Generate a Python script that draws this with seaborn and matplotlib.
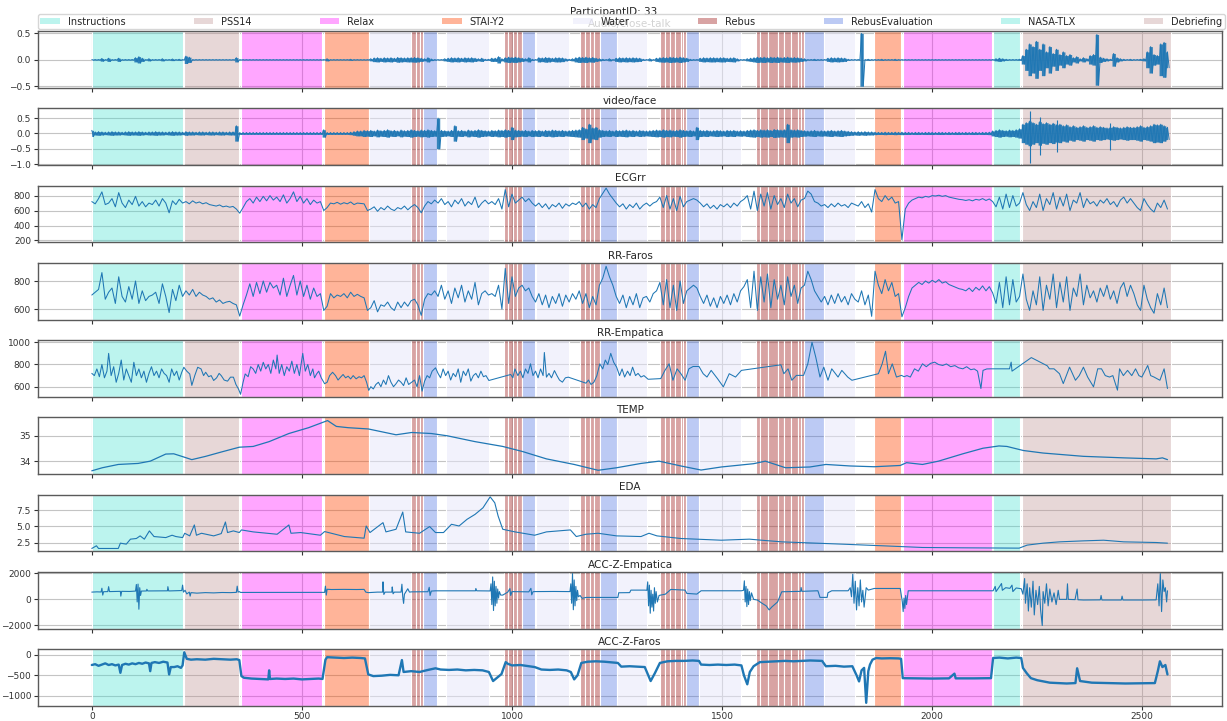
import numpy as np
import matplotlib
matplotlib.use("Agg")
import matplotlib.pyplot as plt
from matplotlib.colors import to_rgba
from matplotlib.patches import Patch
import seaborn as sns

# ---------------------------------------------------------------- protocol
event_names = (["Instructions", "PSS14", "Relax", "STAI-Y2", "Water"]
               + ["Rebus"] * 3 + ["RebusEvaluation", "Water"]
               + ["Rebus"] * 4 + ["RebusEvaluation", "Water"]
               + ["Rebus"] * 4 + ["RebusEvaluation", "Water"]
               + ["Rebus"] * 6 + ["RebusEvaluation", "Water"]
               + ["Rebus"] * 8 + ["RebusEvaluation", "Water"]
               + ["STAI-Y2", "Relax", "NASA-TLX", "Debriefing"])
event_start = [0, 219, 354, 552, 659,
               760, 771, 780, 788, 842,
               981, 991, 1003, 1012, 1023, 1056,
               1162, 1174, 1186, 1195, 1209, 1249,
               1352, 1364, 1376, 1388, 1402, 1407, 1415, 1445,
               1580, 1590, 1610, 1632, 1647, 1665, 1680, 1689, 1694, 1742,
               1862, 1930, 2145, 2213]
event_end = [216, 351, 549, 659, 759,
             771, 780, 788, 821, 946,
             991, 1003, 1012, 1023, 1054, 1136,
             1174, 1186, 1195, 1209, 1249, 1321,
             1364, 1376, 1388, 1402, 1407, 1415, 1445, 1546,
             1590, 1610, 1632, 1647, 1665, 1680, 1689, 1694, 1742, 1816,
             1927, 2142, 2210, 2569]

legend_order = ["Instructions", "PSS14", "Relax", "STAI-Y2", "Water", "Rebus",
                "RebusEvaluation", "NASA-TLX", "Debriefing"]
event_colors = {
    "Instructions": ("turquoise", 0.35),
    "PSS14": ("rosybrown", 0.35),
    "Relax": ("magenta", 0.35),
    "STAI-Y2": ("orangered", 0.40),
    "Water": ("lavender", 0.50),
    "Rebus": ("brown", 0.43),
    "RebusEvaluation": ("royalblue", 0.35),
    "NASA-TLX": ("turquoise", 0.35),
    "Debriefing": ("rosybrown", 0.35),
}

panel_titles = ["Audio/close-talk", "video/face", "ECGrr", "RR-Faros", "RR-Empatica",
                "TEMP", "EDA", "ACC-Z-Empatica", "ACC-Z-Faros"]

# ---------------------------------------------------------------- signals
sample_step = 8  # seconds between samples of the regularly sampled series

audio_amp = [
    0.005, 0.005, 0.005, 0.025, 0.005, 0.03, 0.005, 0.005, 0.03, 0.005,
    0.005, 0.005, 0.005, 0.04, 0.06, 0.03, 0.005, 0.02, 0.005, 0.005,
    0.005, 0.02, 0.005, 0.005, 0.015, 0.005, 0.01, 0.004, 0.07, 0.05,
    0.005, 0.004, 0.004, 0.004, 0.004, 0.004, 0.004, 0.004, 0.004, 0.004,
    0.004, 0.004, 0.004, 0.04, 0.004, 0.004, 0.004, 0.004, 0.004, 0.004,
    0.004, 0.004, 0.004, 0.004, 0.004, 0.004, 0.004, 0.004, 0.004, 0.004,
    0.004, 0.004, 0.004, 0.004, 0.004, 0.004, 0.004, 0.004, 0.004, 0.004,
    0.02, 0.004, 0.004, 0.004, 0.004, 0.004, 0.004, 0.01, 0.004, 0.004,
    0.004, 0.004, 0.004, 0.02, 0.035, 0.04, 0.03, 0.04, 0.035, 0.04,
    0.03, 0.045, 0.04, 0.035, 0.04, 0.04, 0.045, 0.04, 0.03, 0.02,
    0.04, 0.015, 0.005, 0.004, 0.004, 0.02, 0.03, 0.04, 0.035, 0.04,
    0.03, 0.04, 0.035, 0.04, 0.03, 0.02, 0.03, 0.01, 0.01, 0.03,
    0.03, 0.06, 0.02, 0.04, 0.05, 0.045, 0.05, 0.04, 0.03, 0.02,
    0.04, 0.01, 0.005, 0.04, 0.035, 0.045, 0.04, 0.03, 0.04, 0.04,
    0.035, 0.02, 0.01, 0.02, 0.04, 0.05, 0.045, 0.05, 0.04, 0.045,
    0.03, 0.02, 0.01, 0.005, 0.02, 0.005, 0.03, 0.04, 0.035, 0.04,
    0.035, 0.04, 0.035, 0.03, 0.01, 0.005, 0.02, 0.005, 0.03, 0.04,
    0.045, 0.04, 0.05, 0.045, 0.04, 0.05, 0.04, 0.03, 0.01, 0.005,
    0.005, 0.03, 0.04, 0.035, 0.04, 0.04, 0.035, 0.04, 0.04, 0.03,
    0.035, 0.04, 0.02, 0.005, 0.005, 0.02, 0.03, 0.04, 0.05, 0.045,
    0.05, 0.04, 0.05, 0.045, 0.05, 0.04, 0.045, 0.05, 0.04, 0.045,
    0.04, 0.03, 0.02, 0.005, 0.005, 0.01, 0.005, 0.005, 0.005, 0.03,
    0.04, 0.035, 0.04, 0.035, 0.03, 0.01, 0.005, 0.005, 0.005, 0.5,
    0.005, 0.01, 0.005, 0.005, 0.005, 0.01, 0.005, 0.005, 0.005, 0.01,
    0.005, 0.004, 0.004, 0.004, 0.004, 0.004, 0.004, 0.004, 0.004, 0.004,
    0.004, 0.004, 0.004, 0.004, 0.004, 0.004, 0.004, 0.004, 0.004, 0.004,
    0.004, 0.004, 0.004, 0.004, 0.004, 0.004, 0.004, 0.004, 0.005, 0.02,
    0.03, 0.02, 0.01, 0.005, 0.005, 0.005, 0.01, 0.08, 0.2, 0.3,
    0.25, 0.35, 0.2, 0.3, 0.15, 0.25, 0.12, 0.2, 0.1, 0.15,
    0.08, 0.1, 0.04, 0.06, 0.02, 0.04, 0.02, 0.08, 0.1, 0.48,
    0.05, 0.03, 0.02, 0.01, 0.12, 0.04, 0.02, 0.01, 0.005, 0.01,
    0.005, 0.005, 0.01, 0.02, 0.15, 0.25, 0.1, 0.08, 0.3, 0.33,
    0.15,
]

video_amp = [
    0.1, 0.05, 0.06, 0.05, 0.04, 0.05, 0.06, 0.05, 0.05, 0.04,
    0.05, 0.06, 0.05, 0.05, 0.06, 0.05, 0.04, 0.05, 0.05, 0.06,
    0.05, 0.05, 0.04, 0.05, 0.06, 0.05, 0.05, 0.04, 0.06, 0.05,
    0.05, 0.04, 0.05, 0.05, 0.04, 0.05, 0.05, 0.04, 0.05, 0.05,
    0.04, 0.05, 0.05, 0.25, 0.03, 0.03, 0.03, 0.03, 0.03, 0.03,
    0.03, 0.03, 0.03, 0.03, 0.03, 0.03, 0.03, 0.03, 0.03, 0.03,
    0.03, 0.03, 0.03, 0.03, 0.03, 0.03, 0.03, 0.03, 0.03, 0.12,
    0.03, 0.03, 0.03, 0.03, 0.03, 0.03, 0.03, 0.04, 0.06, 0.08,
    0.08, 0.1, 0.09, 0.1, 0.08, 0.11, 0.09, 0.1, 0.12, 0.09,
    0.1, 0.08, 0.11, 0.09, 0.1, 0.12, 0.1, 0.09, 0.11, 0.1,
    0.12, 0.1, 0.09, 0.5, 0.1, 0.09, 0.08, 0.1, 0.25, 0.09,
    0.1, 0.08, 0.11, 0.09, 0.1, 0.12, 0.1, 0.09, 0.08, 0.1,
    0.09, 0.11, 0.1, 0.12, 0.1, 0.2, 0.11, 0.1, 0.09, 0.1,
    0.08, 0.1, 0.09, 0.1, 0.08, 0.1, 0.09, 0.11, 0.1, 0.09,
    0.1, 0.08, 0.09, 0.1, 0.11, 0.12, 0.2, 0.15, 0.3, 0.18,
    0.2, 0.12, 0.1, 0.09, 0.1, 0.08, 0.1, 0.09, 0.1, 0.11,
    0.09, 0.1, 0.08, 0.1, 0.09, 0.08, 0.09, 0.1, 0.11, 0.1,
    0.12, 0.1, 0.11, 0.09, 0.1, 0.12, 0.1, 0.09, 0.1, 0.08,
    0.2, 0.1, 0.09, 0.1, 0.08, 0.09, 0.1, 0.09, 0.08, 0.1,
    0.09, 0.1, 0.08, 0.09, 0.08, 0.1, 0.11, 0.12, 0.1, 0.12,
    0.11, 0.12, 0.1, 0.13, 0.12, 0.11, 0.12, 0.3, 0.12, 0.11,
    0.12, 0.1, 0.09, 0.08, 0.09, 0.1, 0.08, 0.09, 0.08, 0.09,
    0.1, 0.08, 0.09, 0.1, 0.08, 0.07, 0.06, 0.05, 0.06, 0.05,
    0.06, 0.05, 0.05, 0.04, 0.035, 0.035, 0.04, 0.035, 0.035, 0.04,
    0.035, 0.04, 0.035, 0.035, 0.03, 0.035, 0.035, 0.03, 0.035, 0.035,
    0.035, 0.03, 0.035, 0.035, 0.03, 0.035, 0.03, 0.035, 0.035, 0.03,
    0.035, 0.03, 0.035, 0.035, 0.03, 0.035, 0.035, 0.04, 0.08, 0.1,
    0.12, 0.1, 0.09, 0.11, 0.1, 0.12, 0.15, 0.3, 0.35, 0.4,
    0.35, 0.3, 0.38, 0.32, 0.35, 0.3, 0.33, 0.28, 0.3, 0.25,
    0.28, 0.22, 0.25, 0.2, 0.22, 0.25, 0.2, 0.22, 0.25, 0.2,
    0.22, 0.2, 0.18, 0.2, 0.22, 0.2, 0.18, 0.2, 0.22, 0.2,
    0.2, 0.22, 0.25, 0.2, 0.22, 0.25, 0.3, 0.28, 0.3, 0.25,
    0.2,
]
video_spike_t = [2232, 2256, 2296, 2424]
video_spike_hi = [0.73, 0.55, 0.45, 0.35]
video_spike_lo = [-0.95, -0.7, -0.6, -0.55]

ecg_rr = [
    720, 690, 760, 850, 680, 700, 760, 650, 840, 700,
    640, 740, 680, 790, 660, 720, 650, 700, 680, 740,
    660, 760, 700, 570, 730, 680, 750, 700, 720, 690,
    730, 700, 715, 690, 705, 680, 670, 660, 675, 650,
    660, 645, 655, 620, 565, 640, 720, 760, 700, 780,
    720, 790, 730, 800, 740, 780, 720, 810, 700, 760,
    850, 720, 790, 700, 760, 680, 740, 700, 720, 600,
    640, 700, 690, 710, 685, 705, 690, 715, 680, 700,
    695, 690, 600, 620, 650, 590, 640, 610, 660, 620,
    600, 640, 620, 660, 610, 650, 680, 640, 570, 660,
    720, 690, 740, 700, 760, 680, 720, 650, 740, 690,
    760, 660, 720, 680, 780, 640, 700, 740, 690, 720,
    680, 760, 620, 880, 650, 820, 700, 740, 780, 720,
    760, 700, 660, 700, 640, 690, 620, 680, 650, 700,
    630, 690, 660, 700, 680, 720, 650, 700, 620, 680,
    640, 760, 830, 900, 820, 760, 700, 650, 690, 620,
    680, 640, 700, 620, 670, 700, 660, 700, 720, 780,
    640, 800, 620, 760, 600, 790, 650, 720, 740, 760,
    740, 700, 650, 690, 630, 670, 620, 680, 650, 690,
    640, 700, 660, 720, 750, 800, 620, 860, 600, 820,
    660, 840, 620, 800, 680, 760, 640, 820, 700, 760,
    650, 740, 760, 860, 820, 720, 700, 660, 680, 640,
    690, 650, 700, 660, 680, 640, 700, 680, 660, 720,
    640, 690, 580, 880, 760, 720, 800, 740, 780, 700,
    720, 210, 620, 700, 740, 760, 780, 770, 790, 780,
    800, 795, 805, 790, 800, 780, 770, 760, 750, 745,
    735, 745, 730, 750, 740, 760, 735, 755, 720, 650,
    780, 620, 820, 640, 800, 660, 700, 840, 680, 600,
    720, 640, 820, 600, 760, 680, 840, 620, 780, 660,
    820, 600, 740, 700, 840, 640, 760, 690, 720, 660,
    740, 700, 760, 680, 720, 650, 740, 780, 700, 760,
    700, 640, 600, 760, 680, 620, 580, 700, 640, 740,
    620,
]

rr_faros = [
    700, 720, 740, 860, 670, 720, 750, 640, 830, 690,
    650, 760, 670, 800, 640, 730, 660, 690, 700, 720,
    640, 780, 690, 575, 740, 660, 770, 690, 730, 700,
    740, 690, 720, 700, 690, 670, 680, 650, 665, 640,
    650, 655, 640, 630, 550, 630, 700, 780, 690, 790,
    710, 800, 720, 790, 750, 770, 700, 820, 690, 770,
    840, 700, 800, 690, 770, 670, 750, 690, 710, 590,
    620, 710, 680, 700, 690, 710, 680, 720, 690, 705,
    690, 680, 590, 610, 660, 580, 630, 620, 650, 610,
    590, 650, 610, 650, 620, 660, 670, 630, 555, 670,
    710, 700, 730, 690, 770, 670, 730, 640, 750, 680,
    770, 650, 730, 670, 790, 630, 710, 730, 700, 710,
    690, 770, 600, 890, 640, 830, 690, 750, 770, 730,
    750, 690, 650, 710, 630, 700, 610, 690, 640, 710,
    620, 700, 650, 710, 670, 730, 640, 710, 610, 690,
    630, 770, 820, 905, 830, 770, 690, 640, 700, 610,
    690, 630, 710, 610, 680, 690, 650, 710, 730, 790,
    630, 810, 610, 770, 590, 800, 640, 730, 750, 770,
    750, 690, 640, 700, 620, 680, 610, 690, 640, 700,
    630, 710, 650, 730, 760, 810, 610, 870, 590, 830,
    650, 850, 610, 810, 670, 770, 630, 830, 690, 770,
    640, 750, 770, 870, 810, 730, 690, 650, 690, 630,
    700, 640, 710, 650, 690, 630, 710, 670, 650, 730,
    630, 700, 548, 870, 770, 710, 810, 730, 790, 690,
    710, 545, 610, 690, 750, 770, 790, 775, 800, 785,
    805, 790, 810, 785, 795, 775, 765, 755, 745, 740,
    730, 750, 725, 755, 735, 765, 730, 760, 715, 640,
    790, 610, 830, 630, 810, 650, 690, 850, 670, 590,
    730, 630, 830, 590, 770, 670, 850, 610, 790, 650,
    830, 590, 750, 690, 850, 630, 770, 680, 730, 650,
    750, 690, 770, 670, 730, 640, 750, 790, 690, 770,
    710, 630, 590, 770, 670, 610, 570, 710, 630, 750,
    610,
]

rr_empatica_t = [
    0, 6, 12, 18, 24, 30, 36, 40, 46, 52, 58, 64, 70, 76, 82, 88, 94, 100, 106, 112,
    118, 124, 130, 136, 142, 148, 154, 160, 166, 172, 178, 184, 190, 196, 202, 208, 214,
    219, 226, 233, 238, 245, 252, 260, 266, 271, 278, 284, 290, 297, 303, 308, 315, 323,
    330, 337, 343, 349, 354,
    360, 365, 372, 378, 384, 390, 396, 402, 408, 414, 420, 426, 432, 438, 441, 446, 452,
    458, 464, 470, 476, 482, 488, 494, 502, 508, 514, 520, 526, 530, 535, 540, 546,
    554, 560, 566, 573, 580, 586, 592, 598, 604, 610, 616, 622, 629, 636, 642, 648, 654, 659,
    664, 670, 676, 682, 688, 694, 700, 706, 712, 718, 724, 730, 736, 742, 748, 754,
    761, 768, 774, 780, 786, 792, 798, 804, 810, 818, 824, 830, 836, 842, 848, 854, 860,
    866, 872, 878, 884, 890, 896, 902, 908, 914, 920, 926, 932, 938, 945,
    997, 1002, 1007, 1014, 1020, 1026, 1032, 1038, 1044, 1050, 1056, 1062, 1068, 1074,
    1077, 1082, 1088, 1094, 1101, 1107, 1113, 1120, 1127, 1134,
    1176, 1182, 1188, 1195, 1202, 1209, 1216, 1222, 1228, 1235, 1242, 1249, 1256, 1262,
    1268, 1275, 1281, 1287, 1294, 1300, 1307, 1314, 1324,
    1354, 1364, 1374, 1383, 1393, 1402, 1412, 1421, 1431, 1445, 1455, 1464, 1474, 1489,
    1503, 1517, 1532, 1546,
    1640, 1647, 1657, 1666, 1677, 1694, 1704, 1714, 1723, 1733, 1742, 1752, 1761, 1776,
    1785, 1799, 1809,
    1872, 1881, 1889, 1896, 1905, 1915, 1927, 1933, 1940, 1948, 1958, 1967, 1977, 1986,
    1996, 2006, 2015, 2025, 2034, 2044, 2054, 2063, 2073, 2082, 2092, 2100, 2108, 2116,
    2121, 2130, 2140,
    2179, 2184, 2188, 2190, 2236, 2274, 2279, 2290, 2303, 2312, 2327, 2341, 2350, 2360,
    2370, 2384, 2394, 2403, 2412, 2422, 2430, 2441, 2446, 2455, 2465, 2475, 2484, 2492,
    2499, 2513, 2520, 2528, 2542, 2552, 2560,
]
rr_empatica_v = [
    720, 700, 760, 690, 800, 680, 740, 900, 700, 780, 640, 720, 840, 660, 760, 700, 640, 820, 700, 760,
    680, 740, 640, 720, 780, 700, 740, 680, 760, 720, 700, 640, 760, 700, 740, 660, 730,
    775, 740, 715, 612, 700, 775, 760, 700, 730, 690, 700, 656, 680, 720, 700, 660, 650,
    686, 686, 620, 580, 532,
    640, 715, 690, 780, 760, 720, 800, 740, 820, 760, 800, 720, 840, 760, 885, 720, 800,
    700, 780, 740, 830, 720, 800, 700, 900, 740, 800, 700, 760, 680, 715, 740, 680,
    627, 640, 700, 730, 700, 660, 686, 710, 680, 695, 670, 700, 671, 690, 680, 700, 640, 567,
    600, 580, 620, 640, 600, 660, 620, 700, 640, 600, 627, 660, 640, 610, 680, 620,
    640, 660, 600, 700, 560, 650, 700, 680, 740, 770, 720, 680, 760, 700, 740, 660, 720,
    690, 760, 640, 740, 700, 760, 650, 700, 720, 680, 740, 690, 700, 656,
    710, 680, 760, 700, 740, 680, 760, 720, 806, 700, 740, 680, 760, 700,
    908, 686, 720, 680, 745, 700, 660, 641, 680, 686,
    632, 660, 620, 641, 700, 806, 760, 840, 800, 900, 820, 776, 700, 760,
    687, 740, 700, 776, 700, 720, 687, 700, 667,
    673, 747, 806, 658, 761, 717, 658, 761, 782, 782, 717, 687, 747, 673,
    599, 717, 687, 747,
    797, 717, 761, 658, 702, 702, 806, 1000, 865, 687, 776, 658, 761, 687,
    747, 687, 658,
    717, 806, 919, 717, 806, 687, 702, 690, 700, 687, 761, 740, 806, 780,
    810, 821, 800, 791, 805, 780, 790, 770, 761, 780, 753, 760, 740, 584,
    747, 760, 761,
    761, 761, 821, 740, 862, 788, 761, 761, 717, 628, 776, 658, 700, 776,
    687, 599, 761, 761, 700, 687, 700, 569, 761, 700, 747, 700, 761, 700,
    687, 791, 700, 687, 658, 761, 584,
]

temp_t = [0, 25, 63, 110, 139, 176, 195, 214, 238, 271, 308, 351, 384, 422, 469, 516,
          561, 582, 610, 658, 724, 761, 808, 846, 912, 978, 1025, 1082, 1148, 1205,
          1249, 1307, 1350, 1402, 1450, 1498, 1575, 1603, 1651, 1709, 1747, 1805,
          1862, 1924, 1939, 1977, 2015, 2073, 2121, 2159, 2178, 2217, 2264, 2360,
          2456, 2533, 2548, 2560]
temp_v = [33.62, 33.74, 33.87, 33.91, 34.0, 34.28, 34.29, 34.19, 34.06, 34.19, 34.36,
          34.55, 34.58, 34.77, 35.09, 35.32, 35.6, 35.37, 35.32, 35.27, 35.04, 35.13,
          35.09, 35.0, 34.77, 34.58, 34.38, 34.09, 33.87, 33.64, 33.74, 33.91, 34.0,
          33.81, 33.65, 33.77, 33.9, 34.0, 33.74, 33.77, 33.87, 33.81, 33.78, 33.83,
          33.94, 33.87, 34.0, 34.29, 34.51, 34.6, 34.58, 34.42, 34.32, 34.19, 34.13,
          34.09, 34.13, 34.06]

eda_t = [0, 11, 16, 63, 68, 82, 92, 106, 115, 125, 137, 148, 176, 191, 200, 216, 221,
         233, 244, 249, 261, 290, 308, 318, 323, 337, 351, 356, 384, 441, 469, 474, 497,
         544, 554, 601, 648, 653, 662, 693, 700, 724, 740, 747, 780, 804, 818, 837, 856,
         874, 893, 912, 931, 948, 959, 967, 978, 1007, 1054, 1082, 1139, 1153, 1176,
         1205, 1249, 1307, 1326, 1345, 1402, 1498, 1565, 1594, 1642, 1785, 1881, 1977,
         2073, 2207, 2226, 2264, 2303, 2360, 2408, 2456, 2533, 2560]
eda_v = [1.64, 2.05, 1.64, 1.64, 2.45, 2.3, 3.06, 3.16, 3.56, 3.06, 4.32, 3.46, 3.3,
         3.66, 3.46, 3.3, 3.96, 3.56, 5.23, 3.66, 3.96, 3.56, 3.91, 5.68, 4.07, 4.32,
         4.07, 4.47, 4.17, 3.81, 5.23, 3.96, 4.07, 3.66, 4.22, 3.46, 3.21, 5.07, 4.07,
         5.58, 4.17, 4.57, 7.2, 4.17, 3.96, 4.98, 4.07, 4.07, 5.33, 5.07, 6.09, 6.84,
         7.85, 9.52, 8.61, 6.59, 4.57, 4.17, 3.66, 4.17, 4.47, 3.46, 3.81, 3.96, 3.56,
         3.46, 3.96, 3.56, 3.16, 2.9, 3.06, 2.9, 2.65, 2.3, 2.05, 1.79, 1.74, 1.69,
         2.15, 2.45, 2.65, 2.8, 2.9, 2.65, 2.55, 2.45]

acc_z_empatica = [
    (0, 560), (12, 580), (22, 570), (24, 860), (26, 330), (28, 590), (38, 600), (40, 980),
    (42, 600), (60, 610), (68, 620), (69, 250), (71, 620), (90, 610), (104, 640),
    (106, 1150), (108, -200), (110, 1180), (112, -760), (114, 900), (116, 300), (118, 640),
    (130, 650), (131, 780), (133, 650), (160, 660), (180, 660), (181, 980), (183, 650),
    (200, 670), (214, 680), (216, 1100), (218, 560), (222, 700), (226, 420), (232, 560),
    (234, 250), (236, 520), (250, 480), (270, 520), (290, 500), (310, 530), (330, 520),
    (344, 540), (346, 1020), (348, 560), (351, 600), (354, 535), (549, 535), (554, 540),
    (556, 1020), (558, 330), (560, 780), (570, 760), (600, 770), (630, 760), (648, 770),
    (652, 560), (658, 520), (680, 560), (692, 560), (693, 1350), (695, 380), (698, 560),
    (714, 560), (715, 960), (717, 430), (720, 560), (736, 560), (738, 1170), (740, 200),
    (742, -310), (744, 400), (752, 820), (756, 560), (761, 580), (800, 590), (803, 930),
    (805, 300), (808, 640), (818, 660), (860, 660), (900, 660), (913, 660), (914, 840),
    (916, 660), (948, 650), (950, 1200), (952, -400), (954, 1730), (956, -860), (958, 1400),
    (960, -500), (962, 1000), (964, -300), (966, 800), (968, 100), (970, 600), (973, 330),
    (978, 330), (990, 560), (995, 830), (997, 300), (1000, 600), (1020, 590), (1040, 580),
    (1045, 850), (1047, 350), (1050, 590), (1054, 600), (1100, 610), (1138, 600),
    (1140, 1200), (1142, -300), (1144, 1990), (1146, -800), (1148, 1500), (1150, -500),
    (1152, 1000), (1154, -100), (1156, 700), (1158, 200), (1162, 300), (1167, 80),
    (1176, 150), (1252, 150), (1254, 510), (1280, 520), (1283, 714), (1316, 714),
    (1321, 700), (1323, 1350), (1325, -500), (1327, 1100), (1329, -1070), (1331, 700),
    (1333, -600), (1335, 400), (1337, -900), (1339, 900), (1341, -300), (1343, 600),
    (1346, -200), (1350, 300), (1354, 332), (1365, 400), (1378, 765), (1412, 714),
    (1416, 460), (1440, 408), (1450, 663), (1546, 663), (1551, 700), (1553, 1430),
    (1555, -200), (1557, 1000), (1559, -560), (1561, 800), (1563, -400), (1565, 600),
    (1567, -100), (1570, 500), (1575, 0), (1584, -50), (1595, -300), (1605, -500),
    (1612, -816), (1618, -600), (1625, -400), (1632, -200), (1642, 586), (1660, 600),
    (1687, 620), (1688, 918), (1690, 620), (1728, 663), (1733, 153), (1750, 153),
    (1752, 510), (1761, 663), (1800, 663), (1805, 900), (1808, 200), (1811, 1938),
    (1814, -300), (1817, 1400), (1820, -816), (1823, 900), (1826, -500), (1829, 1500),
    (1832, -200), (1835, 700), (1838, -600), (1841, 300), (1843, 900), (1848, 714),
    (1862, 841), (1924, 841), (1929, -200), (1931, -943), (1933, 100), (1935, -700),
    (1937, 300), (1939, -400), (1943, 663), (2145, 663), (2150, 1000), (2152, 600),
    (2160, 969), (2165, 1224), (2167, 700), (2175, 900), (2185, 850), (2190, 1100),
    (2192, 600), (2200, 880), (2212, 820), (2216, 400), (2220, 1606), (2222, -300),
    (2226, 1200), (2229, -900), (2232, 900), (2236, -600), (2240, 1400), (2243, -1200),
    (2247, 700), (2251, -400), (2255, 1000), (2258, -800), (2262, -2015), (2264, 600),
    (2268, -300), (2272, 1200), (2276, -500), (2280, 800), (2285, -200), (2290, 500),
    (2295, -400), (2300, 700), (2303, 0), (2320, 0), (2322, 1200), (2324, 0), (2340, -20),
    (2345, 800), (2347, -30), (2360, -51), (2400, -40), (2402, 300), (2404, -50),
    (2450, -50), (2452, 250), (2454, -50), (2500, -50), (2533, -40), (2537, 1200),
    (2540, -500), (2543, 1990), (2546, -943), (2549, 1500), (2552, 600), (2555, 900),
    (2558, -200), (2560, 663),
]

acc_z_faros = [
    (0, -250), (8, -230), (16, -270), (24, -240), (32, -210), (40, -250), (48, -230),
    (56, -260), (64, -240), (68, -440), (72, -250), (80, -220), (88, -240), (96, -210),
    (104, -230), (112, -200), (120, -220), (128, -190), (136, -210), (139, -400),
    (142, -200), (150, -180), (160, -200), (170, -170), (180, -190), (184, -480),
    (188, -300), (196, -300), (204, -280), (212, -320), (216, -260), (220, 60),
    (226, -100), (236, -120), (250, -110), (270, -120), (290, -100), (310, -110),
    (330, -120), (345, -110), (351, -130), (356, -520), (362, -560), (380, -580),
    (400, -590), (420, -600), (422, -380), (424, -590), (440, -580), (460, -590),
    (480, -580), (500, -600), (520, -590), (540, -580), (549, -590), (556, -120),
    (560, -60), (580, -70), (600, -80), (620, -70), (640, -80), (650, -90), (658, -480),
    (670, -520), (690, -510), (710, -490), (730, -500), (738, -130), (742, -420),
    (760, -400), (780, -420), (800, -370), (818, -330), (830, -360), (850, -370),
    (870, -360), (890, -380), (910, -370), (930, -380), (945, -420), (955, -640),
    (962, -580), (975, -470), (985, -180), (990, -220), (1000, -260), (1020, -250),
    (1040, -280), (1054, -300), (1070, -360), (1090, -370), (1110, -360), (1130, -380),
    (1140, -420), (1148, -600), (1156, -500), (1165, -200), (1180, -170), (1200, -160),
    (1220, -170), (1240, -190), (1252, -200), (1260, -290), (1280, -280), (1300, -290),
    (1316, -300), (1325, -520), (1330, -640), (1340, -450), (1352, -200), (1370, -160),
    (1390, -150), (1410, -150), (1430, -140), (1445, -150), (1450, -240), (1470, -250),
    (1490, -240), (1510, -250), (1530, -240), (1546, -260), (1552, -500), (1560, -720),
    (1566, -420), (1575, -280), (1590, -180), (1610, -170), (1630, -160), (1650, -150),
    (1670, -160), (1690, -150), (1710, -140), (1738, -150), (1747, -280), (1770, -270),
    (1790, -290), (1810, -280), (1820, -500), (1826, -650), (1832, -380), (1838, -320),
    (1843, -1170), (1848, -400), (1852, -240), (1858, -120), (1867, -80), (1880, -90),
    (1900, -85), (1920, -90), (1926, -100), (1930, -570), (1960, -575), (2000, -580),
    (2040, -575), (2053, -460), (2056, -575), (2100, -575), (2140, -570), (2145, -80),
    (2160, -70), (2180, -90), (2200, -70), (2212, -80), (2216, -320), (2225, -450),
    (2235, -570), (2250, -620), (2265, -650), (2280, -680), (2300, -690), (2320, -700),
    (2341, -690), (2345, -330), (2352, -640), (2380, -680), (2420, -690), (2460, -700),
    (2500, -695), (2530, -690), (2537, -400), (2542, -160), (2548, -300), (2555, -250),
    (2560, -480),
]

# axis ranges and ticks per panel
panel_ylims = [(-0.53, 0.545), (-1.03, 0.82), (175, 935), (525, 930), (509, 1020),
               (33.49, 35.73), (1.2, 9.87), (-2255, 2127), (-1244, 138)]
panel_yticks = [[-0.5, 0.0, 0.5], [-1.0, -0.5, 0.0, 0.5], [200, 400, 600, 800], [600, 800],
                [600, 800, 1000], [34, 35], [2.5, 5.0, 7.5], [-2000, 0, 2000],
                [-1000, -500, 0]]

# ---------------------------------------------------------------- style
sns.set_style("whitegrid")
plt.rcParams.update({
    "font.family": ["DejaVu Sans"],
    "axes.edgecolor": "#5a5a5a",
    "axes.linewidth": 1.0,
    "grid.color": "#c4c4c4",
    "grid.linewidth": 0.8,
    "xtick.bottom": True,
    "ytick.left": True,
    "xtick.major.size": 3,
    "ytick.major.size": 3,
    "xtick.major.width": 0.8,
    "ytick.major.width": 0.8,
    "xtick.color": "#333333",
    "ytick.color": "#333333",
    "xtick.labelsize": 6.5,
    "ytick.labelsize": 6.5,
    "xtick.major.pad": 1.5,
    "ytick.major.pad": 2,
})
BLUE = "#1f77b4"


def draw_line(ax, x, y, lw=0.8):
    sns.lineplot(x=np.asarray(x, float), y=np.asarray(y, float), ax=ax, color=BLUE,
                 linewidth=lw, estimator=None, sort=False, errorbar=None, legend=False)


def draw_waveform(ax, amp):
    """Oscillating trace inside a filled amplitude envelope."""
    amp = np.asarray(amp, float)
    t = np.arange(len(amp)) * sample_step
    ax.fill_between(t, -amp, amp, step="mid", color=BLUE, linewidth=0, alpha=0.9)
    x = np.column_stack([t, t + sample_step / 2]).ravel()
    y = np.column_stack([amp, -amp]).ravel()
    draw_line(ax, x, y, lw=0.7)


fig, axes = plt.subplots(9, 1, sharex=True, figsize=(12.27, 7.21), dpi=100)
fig.subplots_adjust(left=0.031, right=0.996, top=0.957, bottom=0.021, hspace=0.36)

for ax, title in zip(axes, panel_titles):
    for name, s, e in zip(event_names, event_start, event_end):
        base, alpha = event_colors[name]
        ax.axvspan(s, e, facecolor=to_rgba(base, alpha), edgecolor="white", linewidth=0.8)
    ax.set_title(title, fontsize=7.5, pad=3)

draw_waveform(axes[0], audio_amp)
draw_waveform(axes[1], video_amp)
axes[1].vlines(video_spike_t, video_spike_lo, video_spike_hi, color=BLUE, linewidth=0.8)
draw_line(axes[2], np.arange(len(ecg_rr)) * sample_step, ecg_rr, lw=0.75)
draw_line(axes[3], np.arange(len(rr_faros)) * sample_step, rr_faros, lw=0.75)
draw_line(axes[4], rr_empatica_t, rr_empatica_v, lw=0.75)
draw_line(axes[5], temp_t, temp_v, lw=0.9)
draw_line(axes[6], eda_t, eda_v, lw=0.8)
draw_line(axes[7], [p[0] for p in acc_z_empatica], [p[1] for p in acc_z_empatica], lw=0.8)
draw_line(axes[8], [p[0] for p in acc_z_faros], [p[1] for p in acc_z_faros], lw=1.7)

for ax, lim, ticks in zip(axes, panel_ylims, panel_yticks):
    ax.set_ylim(*lim)
    ax.set_yticks(ticks)
    ax.set_ylabel("")
    ax.set_xlabel("")
    ax.set_xlim(-128, 2690)
axes[-1].set_xticks([0, 500, 1000, 1500, 2000, 2500])

handles = []
for name in legend_order:
    base, alpha = event_colors[name]
    handles.append(Patch(facecolor=to_rgba(base, alpha), edgecolor="none"))
fig.legend(handles, legend_order, loc="lower left", ncol=9, mode="expand",
           bbox_to_anchor=(0.031, 0.9595, 0.967, 0.015), borderaxespad=0,
           fontsize=7, frameon=True, framealpha=0.8, handlelength=2.0,
           handleheight=0.6, borderpad=0.25, labelspacing=0.2)

fig.suptitle("ParticipantID: 33", y=0.983, fontsize=7.5, va="center")

fig.savefig("out.png", dpi=100)
